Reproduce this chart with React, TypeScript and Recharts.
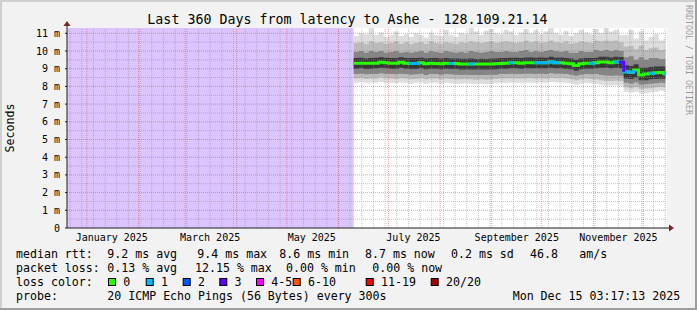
import React from 'react';
import { ComposedChart, Area, Line, XAxis, YAxis, ReferenceLine, ReferenceDot, CartesianGrid } from 'recharts';

// time axis: days since the left edge of the graph (Dec 20 2024 03:17:13)
const START = Date.UTC(2024, 11, 20, 3, 17, 13);
const toDay = (y: number, m: number, d: number) => (Date.UTC(y, m, d) - START) / 86400000;

const TITLE = 'Last 360 Days from latency to Ashe - 128.109.21.14';
const Y_MAX = 11.3;
const yTicks = [0, 1, 2, 3, 4, 5, 6, 7, 8, 9, 10, 11];
const yMinor = [0.5, 1.5, 2.5, 3.5, 4.5, 5.5, 6.5, 7.5, 8.5, 9.5, 10.5];
const monthLabels = ['January 2025', 'March 2025', 'May 2025', 'July 2025', 'September 2025', 'November 2025'];
const monthLabelDays = [0, 2, 4, 6, 8, 10].map((m) => toDay(2025, m, 16));
const monthStarts = [0, 1, 2, 3, 4, 5, 6, 7, 8, 9, 10, 11].map((m) => toDay(2025, m, 1));
const weekLines: number[] = [];
for (let d = toDay(2024, 11, 22); d < 360; d += 7) weekLines.push(d);

// no data before this day (drawn as "unknown")
const unknownRows = [
  { day: 0, unknown: Y_MAX },
  { day: 172, unknown: Y_MAX },
];

// samples (day) and values in ms
const days = [
  172, 175, 178, 181, 184, 187, 190, 193, 196, 199,
  202, 205, 208, 211, 214, 217, 220, 223, 226, 229,
  232, 235, 238, 241, 244, 247, 250, 253, 256, 259,
  262, 265, 268, 271, 274, 277, 280, 283, 286, 289,
  292, 295, 298, 301, 304, 307, 310, 313, 316, 319,
  322, 325, 328, 331, 334, 337, 340, 343, 346, 349,
  352, 355, 358, 359,
];
const median = [
  9.31, 9.31, 9.31, 9.31, 9.31, 9.36, 9.33, 9.31, 9.31, 9.36,
  9.31, 9.30, 9.30, 9.33, 9.28, 9.31, 9.30, 9.28, 9.31, 9.29,
  9.29, 9.27, 9.27, 9.27, 9.26, 9.27, 9.26, 9.27, 9.28, 9.30,
  9.31, 9.33, 9.33, 9.31, 9.33, 9.34, 9.33, 9.34, 9.33, 9.38,
  9.33, 9.34, 9.31, 9.28, 9.18, 9.28, 9.31, 9.31, 9.33, 9.38,
  9.38, 9.34, 9.38, 9.37, 8.83, 8.80, 8.92, 8.65, 8.70, 8.74,
  8.77, 8.78, 8.72, 8.72,
];
const loss = [
  0, 0, 0, 0, 0, 0, 0, 0, 0, 0,
  0, 1, 1, 0, 0, 0, 0, 0, 0, 1,
  0, 0, 0, 1, 0, 0, 0, 0, 0, 0,
  0, 1, 0, 0, 0, 0, 1, 0, 1, 0,
  1, 0, 0, 0, 0, 0, 0, 1, 0, 0,
  0, 0, 1, 3, 1, 1, 0, 0, 0, 1,
  0, 0, 1, 1,
];
const pMax = [
  10.85, 11.0, 10.95, 11.3, 10.9, 11.05, 10.8, 10.9, 11.1, 10.85,
  10.95, 10.8, 11.0, 10.9, 10.75, 11.05, 10.9, 10.85, 11.2, 10.9,
  10.8, 11.0, 10.95, 11.3, 11.1, 10.9, 11.15, 11.25, 11.0, 10.95,
  11.2, 11.1, 10.9, 11.05, 11.25, 11.0, 11.2, 10.95, 11.1, 11.3,
  11.0, 10.9, 11.15, 10.85, 11.0, 11.2, 11.05, 10.95, 11.25, 11.0,
  11.3, 11.1, 11.2, 10.9, 10.9, 11.2, 10.7, 11.1, 10.6, 10.8,
  10.95, 10.6, 10.7, 10.7,
];
const pHi2 = [
  10.45, 10.5, 10.4, 10.55, 10.45, 10.5, 10.4, 10.45, 10.55, 10.4,
  10.5, 10.4, 10.45, 10.5, 10.4, 10.55, 10.45, 10.4, 10.5, 10.45,
  10.4, 10.5, 10.45, 10.55, 10.5, 10.45, 10.5, 10.55, 10.45, 10.5,
  10.55, 10.5, 10.45, 10.5, 10.6, 10.5, 10.55, 10.45, 10.5, 10.6,
  10.5, 10.45, 10.55, 10.4, 10.45, 10.55, 10.5, 10.45, 10.6, 10.55,
  10.6, 10.55, 10.6, 10.5, 10.25, 10.3, 10.1, 10.3, 10.05, 10.15,
  10.2, 10.05, 10.1, 10.1,
];
const pHi1 = [
  9.95, 10.0, 9.9, 10.0, 9.95, 10.0, 9.9, 9.95, 10.0, 9.9,
  9.95, 9.9, 9.95, 10.0, 9.9, 10.0, 9.95, 9.9, 10.0, 9.95,
  9.9, 9.95, 9.9, 10.0, 9.95, 9.9, 9.95, 10.0, 9.95, 9.95,
  10.0, 9.95, 9.95, 10.0, 10.05, 9.95, 10.0, 9.95, 10.0, 10.05,
  10.0, 9.95, 10.0, 9.9, 9.9, 10.0, 9.95, 9.95, 10.05, 10.0,
  10.05, 10.0, 10.05, 10.0, 9.65, 9.7, 9.5, 9.65, 9.5, 9.6,
  9.6, 9.55, 9.55, 9.55,
];
const pHi0 = [
  9.6, 9.62, 9.58, 9.6, 9.62, 9.65, 9.62, 9.6, 9.6, 9.65,
  9.6, 9.6, 9.6, 9.62, 9.58, 9.6, 9.6, 9.57, 9.6, 9.58,
  9.58, 9.56, 9.56, 9.57, 9.55, 9.56, 9.55, 9.57, 9.58, 9.6,
  9.6, 9.62, 9.62, 9.6, 9.63, 9.64, 9.62, 9.64, 9.62, 9.67,
  9.62, 9.64, 9.6, 9.58, 9.5, 9.57, 9.6, 9.6, 9.62, 9.67,
  9.67, 9.64, 9.67, 9.66, 9.2, 9.15, 9.25, 9.05, 9.05, 9.1,
  9.12, 9.13, 9.12, 9.12,
];
const pLo0 = [
  9.0, 9.02, 8.98, 9.0, 9.02, 9.05, 9.02, 9.0, 9.0, 9.05,
  9.0, 8.98, 8.98, 9.02, 8.97, 9.0, 9.0, 8.97, 9.0, 8.98,
  8.98, 8.96, 8.96, 8.96, 8.95, 8.96, 8.95, 8.96, 8.97, 9.0,
  9.0, 9.02, 9.02, 9.0, 9.02, 9.03, 9.02, 9.03, 9.02, 9.06,
  9.02, 9.03, 9.0, 8.97, 8.88, 8.97, 9.0, 9.0, 9.02, 9.05,
  9.05, 9.02, 9.05, 9.02, 8.45, 8.42, 8.5, 8.35, 8.35, 8.4,
  8.42, 8.43, 8.42, 8.42,
];
const pLo1 = [
  8.7, 8.72, 8.68, 8.7, 8.7, 8.75, 8.7, 8.7, 8.68, 8.72,
  8.7, 8.66, 8.68, 8.72, 8.65, 8.7, 8.7, 8.66, 8.7, 8.68,
  8.66, 8.65, 8.66, 8.65, 8.64, 8.65, 8.64, 8.66, 8.66, 8.7,
  8.7, 8.72, 8.7, 8.7, 8.72, 8.72, 8.7, 8.72, 8.7, 8.74,
  8.72, 8.72, 8.7, 8.66, 8.6, 8.66, 8.7, 8.68, 8.7, 8.65,
  8.62, 8.6, 8.62, 8.6, 8.2, 8.15, 8.22, 8.1, 8.12, 8.15,
  8.18, 8.2, 8.18, 8.18,
];
const pLo2 = [
  8.45, 8.48, 8.42, 8.45, 8.45, 8.5, 8.45, 8.44, 8.42, 8.46,
  8.45, 8.4, 8.42, 8.46, 8.4, 8.45, 8.44, 8.4, 8.45, 8.42,
  8.4, 8.4, 8.42, 8.4, 8.38, 8.4, 8.38, 8.4, 8.42, 8.45,
  8.45, 8.46, 8.45, 8.44, 8.46, 8.47, 8.45, 8.46, 8.45, 8.48,
  8.46, 8.47, 8.45, 8.42, 8.35, 8.4, 8.45, 8.42, 8.4, 8.35,
  8.3, 8.3, 8.32, 8.3, 7.95, 7.9, 7.95, 7.85, 7.88, 7.9,
  7.95, 7.98, 7.95, 7.95,
];
const pMin = [
  8.2, 8.25, 8.2, 8.22, 8.2, 8.25, 8.2, 8.2, 8.18, 8.22,
  8.2, 8.15, 8.2, 8.22, 8.15, 8.2, 8.2, 8.15, 8.2, 8.18,
  8.15, 8.15, 8.18, 8.15, 8.12, 8.15, 8.12, 8.15, 8.18, 8.2,
  8.2, 8.22, 8.2, 8.2, 8.22, 8.22, 8.2, 8.22, 8.2, 8.25,
  8.22, 8.22, 8.2, 8.18, 8.1, 8.15, 8.2, 8.18, 8.15, 8.1,
  8.05, 8.05, 8.08, 8.05, 7.7, 7.65, 7.7, 7.6, 7.62, 7.65,
  7.7, 7.75, 7.7, 7.7,
];

// loss legend (pings lost of 20)
const lossLabels = ['0', '1', '2', '3', '4-5', '6-10', '11-19', '20/20'];
const lossUpper = [0, 1, 2, 3, 5, 10, 19, 20];
const lossColors = ['#26ff00', '#00b8ff', '#0059ff', '#5e00ff', '#ff00ff', '#ff5500', '#ff0000', '#a00000'];
const lossBin = (l: number) => lossUpper.findIndex((u) => l <= u);

const rows = days.map((day, i) => {
  const r: any = {
    day,
    median: median[i],
    smokeA: [pMin[i], pMax[i]],
    smokeB: [pLo2[i], pHi2[i]],
    smokeC: [pLo1[i], pHi1[i]],
    smokeD: [pLo0[i], pHi0[i]],
  };
  for (let b = 1; b < lossColors.length; b++) {
    const on = lossBin(loss[i]) === b || (i > 0 && lossBin(loss[i - 1]) === b);
    r['loss' + b] = on ? median[i] : null;
  }
  return r;
});

const legendRows = [
  { y: 254, items: [[16, 'median rtt:'], [107.3, '9.2 ms avg'], [197.3, '9.4 ms max'], [279.3, '8.6 ms min'], [365, '8.7 ms now'], [451, '0.2 ms sd'], [530, '46.8'], [579.3, 'am/s']] },
  { y: 268, items: [[16, 'packet loss:'], [107.3, '0.13 % avg'], [195, '12.15 % max'], [286, '0.00 % min'], [372.3, '0.00 % now']] },
  { y: 296, items: [[16, 'probe:'], [107.3, '20 ICMP Echo Pings (56 Bytes) every 300s'], [512.7, 'Mon Dec 15 03:17:13 2025']] },
];
const lossBoxX = [108, 145.7, 182.7, 219.3, 256, 292.7, 365.7, 430.7];

const FONT = "'DejaVu Sans Mono', monospace";
const GRID = 'rgba(143,143,143,0.55)';
const MGRID = 'rgba(222,79,79,0.55)';

const ArrowUp = (p: any) => (
  <g>
    <line x1={p.cx} y1={p.cy} x2={p.cx} y2={p.cy - 3} stroke="#1f1f1f" />
    <polygon points={`${p.cx - 3.5},${p.cy - 2} ${p.cx},${p.cy - 7} ${p.cx + 3.5},${p.cy - 2}`} fill="#801f1f" />
  </g>
);
const ArrowRight = (p: any) => (
  <g>
    <line x1={p.cx} y1={p.cy} x2={p.cx + 3} y2={p.cy} stroke="#1f1f1f" />
    <polygon points={`${p.cx + 2},${p.cy - 3.5} ${p.cx + 7},${p.cy} ${p.cx + 2},${p.cy + 3.5}`} fill="#801f1f" />
  </g>
);

export default function App() {
  return (
    <div style={{ position: 'absolute', left: 0, top: 0, width: 697, height: 310, background: '#f2f2f2' }}>
      <ComposedChart width={697} height={310} data={rows} margin={{ top: 28, right: 30, left: 7, bottom: 62 }}>
        <CartesianGrid fill="#ffffff" stroke="none" />
        <XAxis
          dataKey="day"
          type="number"
          domain={[0, 360]}
          allowDataOverflow
          ticks={monthLabelDays}
          interval={0}
          tickFormatter={(v: number) => monthLabels[monthLabelDays.indexOf(v)] ?? ''}
          tickLine={false}
          tickSize={0}
          tickMargin={6}
          height={20}
          axisLine={{ stroke: '#1f1f1f' }}
          tick={{ fill: '#000', fontSize: 10, fontFamily: FONT }}
        />
        <YAxis
          type="number"
          domain={[0, Y_MAX]}
          allowDataOverflow
          ticks={yTicks}
          interval={0}
          tickFormatter={(v: number) => (v === 0 ? '0' : `${v} m`)}
          width={60}
          tickSize={2}
          tickMargin={5}
          tickLine={{ stroke: '#1f1f1f' }}
          axisLine={{ stroke: '#1f1f1f' }}
          tick={{ fill: '#000', fontSize: 10, fontFamily: FONT }}
        />
        <Area data={unknownRows} dataKey="unknown" type="linear" fill="#dcc4ff" fillOpacity={1} stroke="none" isAnimationActive={false} />
        <Area dataKey="smokeA" type="stepAfter" fill="#dddddd" fillOpacity={1} stroke="none" isAnimationActive={false} />
        <Area dataKey="smokeB" type="stepAfter" fill="#bbbbbb" fillOpacity={1} stroke="none" isAnimationActive={false} />
        <Area dataKey="smokeC" type="stepAfter" fill="#858585" fillOpacity={1} stroke="none" isAnimationActive={false} />
        <Area dataKey="smokeD" type="stepAfter" fill="#383838" fillOpacity={1} stroke="none" isAnimationActive={false} />
        <Line dataKey="median" type="stepAfter" stroke={lossColors[0]} strokeWidth={3} dot={false} isAnimationActive={false} />
        {lossColors.slice(1).map((c, k) => (
          <Line key={c} dataKey={'loss' + (k + 1)} type="stepAfter" stroke={c} strokeWidth={3} dot={false} isAnimationActive={false} />
        ))}
        {yMinor.map((v) => (
          <ReferenceLine key={'ym' + v} y={v} stroke={GRID} strokeDasharray="1 1" />
        ))}
        {weekLines.map((d) => (
          <ReferenceLine key={'xw' + d} x={d} stroke={GRID} strokeDasharray="1 1" />
        ))}
        {yTicks.slice(1).map((v) => (
          <ReferenceLine key={'yM' + v} y={v} stroke={MGRID} strokeDasharray="1 1" />
        ))}
        {monthStarts.map((d) => (
          <ReferenceLine key={'xM' + d} x={d} stroke={MGRID} strokeDasharray="1 1" />
        ))}
        <ReferenceDot x={0} y={Y_MAX} r={0} ifOverflow="visible" shape={ArrowUp} />
        <ReferenceDot x={360} y={0} r={0} ifOverflow="visible" shape={ArrowRight} />
      </ComposedChart>
      <svg width={697} height={310} style={{ position: 'absolute', left: 0, top: 0, pointerEvents: 'none' }} fontFamily={FONT}>
        <rect x={0} y={0} width={697} height={2} fill="#cfcfcf" />
        <rect x={0} y={0} width={2} height={310} fill="#cfcfcf" />
        <rect x={0} y={308} width={697} height={2} fill="#9e9e9e" />
        <rect x={695} y={0} width={2} height={310} fill="#9e9e9e" />
        <text x={347.5} y={19} fontSize={13.3} textAnchor="middle" dominantBaseline="central" fill="#000">{TITLE}</text>
        <text x={10} y={128} fontSize={11.6} textAnchor="middle" dominantBaseline="central" transform="rotate(-90 10 128)" fill="#000">Seconds</text>
        <text x={688.5} y={5} fontSize={8.3} dominantBaseline="central" transform="rotate(90 688.5 5)" fill="#000" fillOpacity={0.4}>RRDTOOL / TOBI OETIKER</text>
        {legendRows.map((row) =>
          row.items.map(([x, s]) => (
            <text key={row.y + '-' + x} x={x as number} y={row.y} fontSize={11.6} dominantBaseline="central" fill="#000">{s}</text>
          ))
        )}
        <text x={16} y={282} fontSize={11.6} dominantBaseline="central" fill="#000">loss color:</text>
        {lossLabels.map((l, k) => (
          <g key={l}>
            <rect x={lossBoxX[k] + 0.5} y={278.5} width={7} height={7} fill={lossColors[k]} stroke="#000" />
            <text x={lossBoxX[k] + 15.3} y={282} fontSize={11.6} dominantBaseline="central" fill="#000">{l}</text>
          </g>
        ))}
      </svg>
    </div>
  );
}
